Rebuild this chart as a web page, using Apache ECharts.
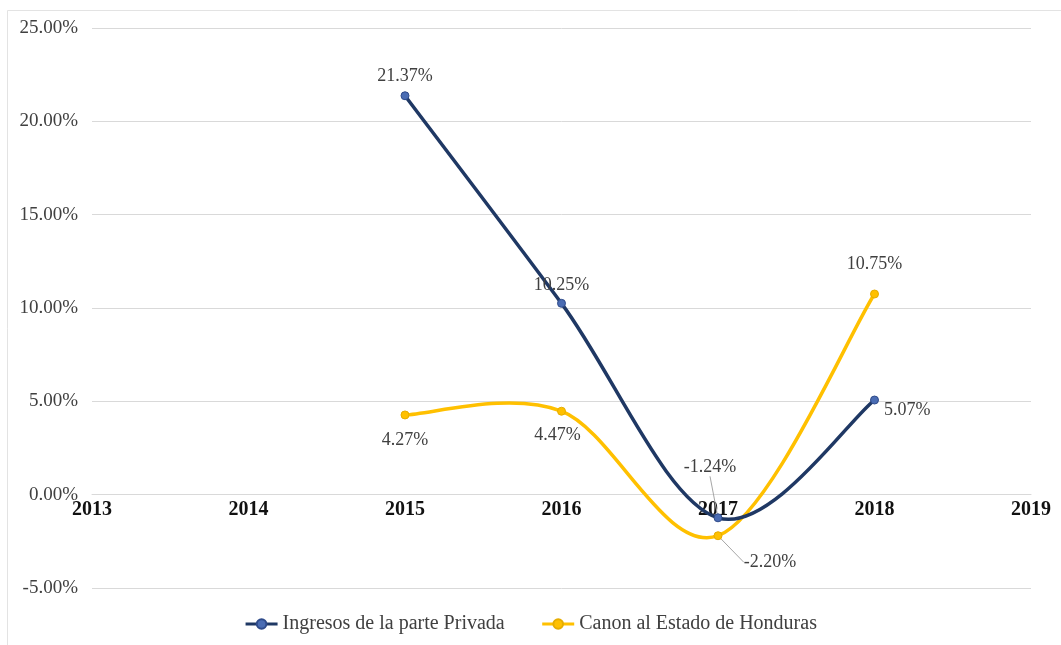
<!DOCTYPE html>
<html>
<head>
<meta charset="utf-8">
<script src="https://cdn.jsdelivr.net/npm/echarts@6/dist/echarts.min.js"></script>
<style>
  html, body { margin: 0; padding: 0; background: #ffffff; }
  #chart { width: 1061px; height: 645px; }
</style>
</head>
<body>
<div id="chart"></div>
<script>
// Years on the category axis
const years = ['2013', '2014', '2015', '2016', '2017', '2018', '2019'];
// Annual growth (%) – private party income
const ingresosPrivada = [null, null, 21.37, 10.25, -1.24, 5.07, null];
// Annual growth (%) – fee paid to the State of Honduras
const canonEstado = [null, null, 4.27, 4.47, -2.20, 10.75, null];
// Y axis ticks
const yMin = -5, yMax = 25, yStep = 5;

const FONT = "'Liberation Serif', 'Times New Roman', serif";
const TEXT = '#404040';
const NAVY = '#1f3864';
const GOLD = '#ffc000';

// Per-point label placement (dx/dy shift from the default position)
const privLabel = [null, null,
  { position: 'top', shift: [0, -1] },
  { position: 'top', shift: [0, 0] },
  { position: 'top', shift: [-8, -32], guide: true },
  { position: 'right', shift: [0, 10] },
  null];
const canonLabel = [null, null,
  { position: 'bottom', shift: [0, 7] },
  { position: 'bottom', shift: [-4, 6] },
  { position: 'bottom', shift: [52, 8], guide: true },
  { position: 'top', shift: [0, -11] },
  null];

function buildData(values, labels) {
  return values.map((v, i) => {
    if (v === null) return '-';
    const l = labels[i] || {};
    return {
      value: v,
      label: { position: l.position },
      labelLine: { show: !!l.guide }
    };
  });
}
function layoutFor(labels) {
  return function (p) {
    const l = labels[p.dataIndex];
    if (l && l.shift) return { dx: l.shift[0], dy: l.shift[1] };
    return undefined;
  };
}

// Smoothed curve through the points (cardinal spline, Bezier segments)
function curveRenderer(values, color, width) {
  return function (params, api) {
    const i = params.dataIndex;
    const has = k => k >= 0 && k < values.length && values[k] !== null;
    if (!has(i) || !has(i + 1)) return null;
    const p1 = api.coord([i, values[i]]);
    const p2 = api.coord([i + 1, values[i + 1]]);
    const p0 = has(i - 1) ? api.coord([i - 1, values[i - 1]]) : p1;
    const p3 = has(i + 2) ? api.coord([i + 2, values[i + 2]]) : p2;
    return {
      type: 'bezierCurve',
      shape: {
        x1: p1[0], y1: p1[1],
        cpx1: p1[0] + (p2[0] - p0[0]) / 6, cpy1: p1[1] + (p2[1] - p0[1]) / 6,
        cpx2: p2[0] - (p3[0] - p1[0]) / 6, cpy2: p2[1] - (p3[1] - p1[1]) / 6,
        x2: p2[0], y2: p2[1]
      },
      style: { stroke: color, lineWidth: width, fill: null, lineCap: 'round' },
      silent: true
    };
  };
}

const chart = echarts.init(document.getElementById('chart'), null, { renderer: 'canvas' });

const option = {
  backgroundColor: '#ffffff',
  animation: false,
  textStyle: { fontFamily: FONT },
  graphic: [{
    type: 'rect',
    shape: { x: 7.5, y: 10.5, width: 1100, height: 700 },
    style: { fill: 'none', stroke: '#e3e3e3', lineWidth: 1 },
    silent: true
  }],
  grid: { left: 92, right: 30, top: 28, bottom: 57, containLabel: false },
  legend: {
    bottom: 6,
    left: 'center',
    itemWidth: 32,
    itemHeight: 12,
    itemGap: 36,
    lineStyle: { opacity: 1, width: 3 },
    textStyle: { fontFamily: FONT, fontSize: 20, color: TEXT },
    data: ['Ingresos de la parte Privada', 'Canon al Estado de Honduras']
  },
  xAxis: {
    type: 'category',
    data: years,
    boundaryGap: false,
    offset: -93.33,
    axisLine: { onZero: false, lineStyle: { color: '#d9d9d9', width: 1 } },
    axisTick: { show: false },
    axisLabel: {
      fontFamily: FONT, fontSize: 20, fontWeight: 'bold', color: '#111111', margin: 5
    },
    splitLine: { show: false }
  },
  yAxis: {
    type: 'value',
    min: yMin,
    max: yMax,
    interval: yStep,
    axisLine: { show: false },
    axisTick: { show: false },
    axisLabel: {
      fontFamily: FONT, fontSize: 19, color: TEXT, margin: 14,
      formatter: v => v.toFixed(2) + '%'
    },
    splitLine: { lineStyle: { color: '#d9d9d9', width: 1 } }
  },
  series: [
    {
      name: 'curve-canon',
      type: 'custom',
      data: canonEstado.map((v, i) => [i, v === null ? '-' : v]),
      renderItem: curveRenderer(canonEstado, GOLD, 3.5),
      silent: true,
      z: 2
    },
    {
      name: 'curve-privada',
      type: 'custom',
      data: ingresosPrivada.map((v, i) => [i, v === null ? '-' : v]),
      renderItem: curveRenderer(ingresosPrivada, NAVY, 3.5),
      silent: true,
      z: 3
    },
    {
      name: 'Ingresos de la parte Privada',
      type: 'line',
      data: buildData(ingresosPrivada, privLabel),
      symbol: 'circle',
      symbolSize: 8,
      lineStyle: { color: NAVY, width: 3.5, opacity: 0 },
      itemStyle: { color: '#4a6cb3', borderColor: '#2f4b8a', borderWidth: 1 },
      label: {
        show: true,
        fontFamily: FONT, fontSize: 18, color: TEXT,
        formatter: p => p.value.toFixed(2) + '%'
      },
      labelLayout: layoutFor(privLabel),
      labelLine: { show: true, lineStyle: { color: '#a6a6a6', width: 1 } },
      z: 5
    },
    {
      name: 'Canon al Estado de Honduras',
      type: 'line',
      data: buildData(canonEstado, canonLabel),
      symbol: 'circle',
      symbolSize: 8,
      lineStyle: { color: GOLD, width: 3.5, opacity: 0 },
      itemStyle: { color: GOLD, borderColor: '#e6ad00', borderWidth: 1 },
      label: {
        show: true,
        fontFamily: FONT, fontSize: 18, color: TEXT,
        formatter: p => p.value.toFixed(2) + '%'
      },
      labelLayout: layoutFor(canonLabel),
      labelLine: { show: true, lineStyle: { color: '#a6a6a6', width: 1 } },
      z: 4
    }
  ]
};

chart.setOption(option);
</script>
</body>
</html>
